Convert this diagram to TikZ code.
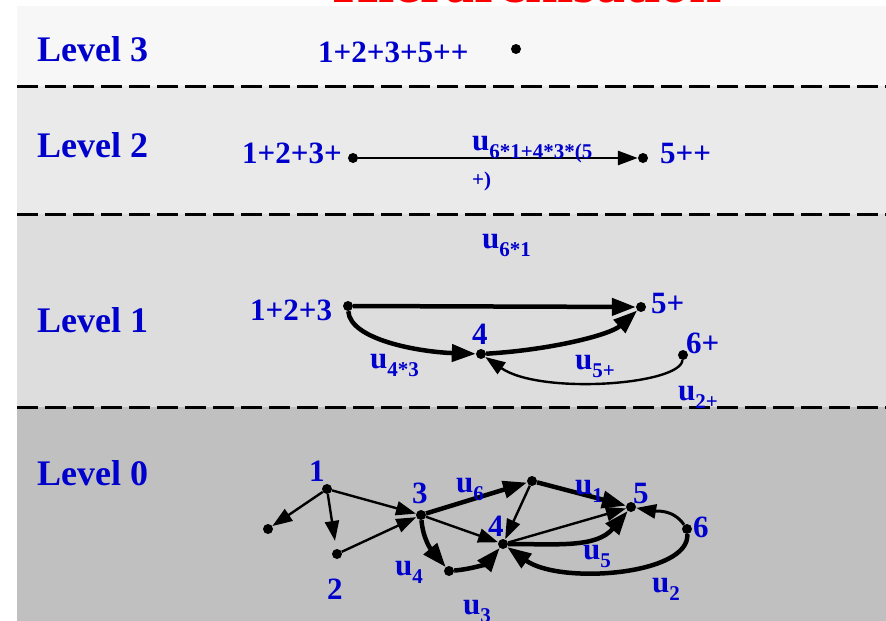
\documentclass[tikz,border=0pt]{standalone}
\usepackage{fontspec}
\setmainfont{Liberation Serif}
\usetikzlibrary{arrows.meta}
\definecolor{tblue}{RGB}{0,0,204}
\definecolor{bandA}{RGB}{247,247,247}
\definecolor{bandB}{RGB}{234,234,234}
\definecolor{bandC}{RGB}{221,221,221}
\definecolor{bandD}{RGB}{192,192,192}
\newcommand\mysub[1]{u\raisebox{-8pt}{\fontsize{21}{21}\selectfont #1}}
\tikzset{
  lvl/.style={font=\fontsize{36}{40}\selectfont\bfseries, text=tblue, anchor=base west, inner sep=0pt},
  lbl/.style={font=\fontsize{31}{34}\selectfont\bfseries, text=tblue, anchor=base west, inner sep=0pt},
  sublbl/.style={font=\fontsize{21}{21}\selectfont\bfseries, text=tblue, anchor=base west, inner sep=0pt},
  ttl/.style={font=\fontsize{58}{60}\selectfont\bfseries, text=red, anchor=base west, inner sep=0pt},
  dot/.style={circle, fill=black, minimum size=10pt, inner sep=0pt},
  sep/.style={line width=3pt, dash pattern=on 21pt off 7pt},
  thinarr/.style={line width=2.4pt, -{Triangle[length=20pt,width=14pt]}},
  midarr/.style={line width=3pt, -{Triangle[length=20pt,width=14pt]}},
  thickarr/.style={line width=4.5pt, -{Triangle[length=24pt,width=17pt]}},
}
\begin{document}
\begin{tikzpicture}[x=1pt,y=-1pt]
\useasboundingbox (0,0) rectangle (886,621);
\clip (0,0) rectangle (886,621);
% bands
\fill[bandA] (17,6) rectangle (886,86);
\fill[bandB] (17,86) rectangle (886,214);
\fill[bandC] (17,214) rectangle (886,407);
\fill[bandD] (17,407) rectangle (886,621);
\draw[sep] (17,86) -- (886,86);
\draw[sep] (17,214) -- (886,214);
\draw[sep] (17,407) -- (886,407);
% title (cut off)
\node[ttl] (title) at (333,2.5) {Hiérarchisation};
% level labels
\node[lvl] (L3) at (37,61) {Level 3};
\node[lvl] (L2) at (37,157) {Level 2};
\node[lvl] (L1) at (37,332) {Level 1};
\node[lvl] (L0) at (37,485) {Level 0};
% ---- Level 3
\node[lbl] (t3) at (318,62) {1+2+3+5++};
\node[dot] (d3) at (516,49) {};
% ---- Level 2
\node[lbl] (t2a) at (242,163) {1+2+3+};
\node[lbl] (t2b) at (660,163) {5++};
\node[dot] (d2a) at (353,158) {};
\node[dot] (d2b) at (643,158) {};
\draw[line width=2.8pt, -{Triangle[length=20pt,width=14pt]}] (d2a) -- (d2b);
\node[lbl] (u2lab) at (472,150) {\mysub{6*1+4*3*(5}};
\node[sublbl] (u2lab2) at (472,186) {+)};
% ---- Level 1
\node[dot] (a123) at (348,306) {};
\node[dot] (a5) at (641,307) {};
\node[dot] (a4) at (481,354) {};
\node[dot] (a6) at (683,355) {};
\node[lbl] (ta123) at (250,320) {1+2+3};
\node[lbl] (ta5) at (651,313) {5+};
\node[lbl] (ta4) at (472,344) {4};
\node[lbl] (ta6) at (686,353) {6+};
\draw[thickarr] (a123) -- (a5);
\draw[thickarr] (a123) .. controls (350,340) and (420,352) .. (a4);
\draw[thickarr] (a4) .. controls (550,350) and (610,335) .. (a5);
\draw[thinarr] (a6) .. controls (680,385) and (540,395) .. (a4);
\node[lbl] (ua61) at (482,248) {\mysub{6*1}};
\node[lbl] (ua43) at (370,368) {\mysub{4*3}};
\node[lbl] (ua5) at (575,369) {\mysub{5+}};
\node[lbl] (ua2) at (678,400) {\mysub{2+}};
% ---- Level 0
\node[dot] (b1) at (327,489) {};
\node[dot] (bl) at (268,529) {};
\node[dot] (b2) at (337,554) {};
\node[dot] (b3) at (421,515) {};
\node[dot] (bt) at (532,481) {};
\node[dot] (b4) at (503,544) {};
\node[dot] (b5) at (631,507) {};
\node[dot] (b6) at (687,529) {};
\node[dot] (bb) at (449,571) {};
\node[lbl] (tb1) at (309,481) {1};
\node[lbl] (tb2) at (327,599) {2};
\node[lbl] (tb3) at (412,503) {3};
\node[lbl] (tb4) at (488,536) {4};
\node[lbl] (tb5) at (633,503) {5};
\node[lbl] (tb6) at (693,537) {6};
\draw[thinarr] (b1) -- (bl);
\draw[thinarr, shorten >=8pt] (b1) -- (b2);
\draw[thinarr] (b1) -- (b3);
\draw[thinarr] (b2) -- (b3);
\draw[thinarr] (b3) -- (b4);
\draw[thinarr] (bt) -- (b4);
\draw[thinarr] (b4) -- (b5);
\draw[thickarr] (b3) -- (bt);
\draw[thickarr] (bt) -- (b5);
\draw[thickarr] (b3) to[out=-85,in=130] (bb);
\draw[thickarr] (bb) to[out=5,in=-130] (b4);
\draw[thickarr] (b4) to[out=0,in=-130] (b5);
\draw[midarr] (b6) to[out=125,in=-10] (b5);
\draw[thickarr] (b6) .. controls (690,575) and (560,585) .. (b4);
\node[lbl] (ub6) at (456,492) {\mysub{6}};
\node[lbl] (ub1) at (575,494) {\mysub{1}};
\node[lbl] (ub5) at (583,559) {\mysub{5}};
\node[lbl] (ub4) at (395,575) {\mysub{4}};
\node[lbl] (ub3) at (463,614) {\mysub{3}};
\node[lbl] (ub2) at (652,592) {\mysub{2}};
\end{tikzpicture}
\end{document}
